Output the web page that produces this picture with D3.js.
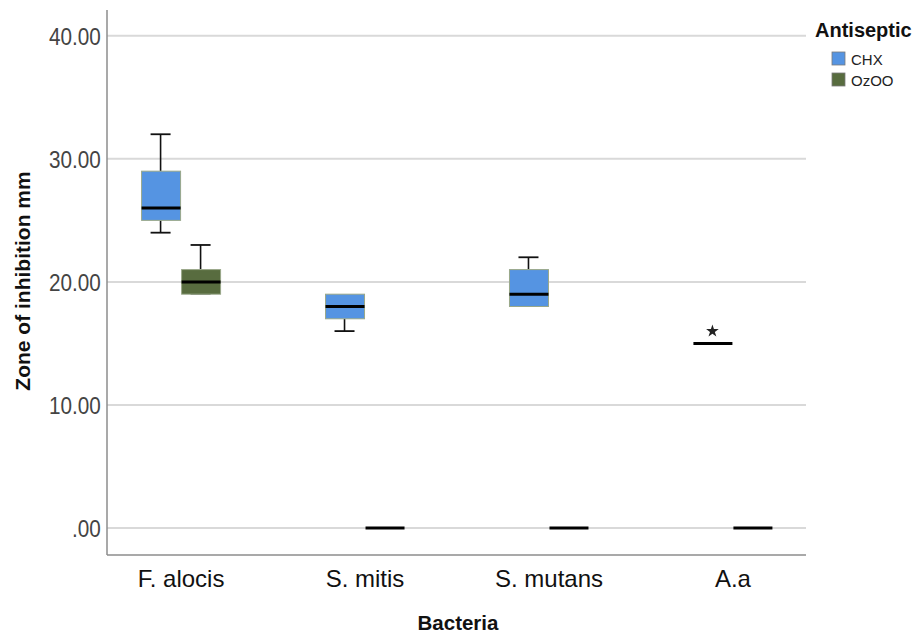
<!DOCTYPE html>
<html><head><meta charset="utf-8">
<script src="https://cdn.jsdelivr.net/npm/d3@7"></script>
<style>body{margin:0;background:#fff}svg{display:block;font-family:"Liberation Sans",Arial,sans-serif}</style>
</head><body><svg id="c" width="918" height="634"></svg>
<script>
const categories = ["F. alocis", "S. mitis", "S. mutans", "A.a"];
const series = ["CHX", "OzOO"];
const colors = ["#5594e2", "#586c3f"];
const yTicks = [0, 10, 20, 30, 40];
// box statistics per series, in category order
const chxMin    = [24, 16, 18, 15];
const chxQ1     = [25, 17, 18, 15];
const chxMedian = [26, 18, 19, 15];
const chxQ3     = [29, 19, 21, 15];
const chxMax    = [32, 19, 22, 15];
const chxOutliers = [[], [], [], [16]];
const ozMin    = [19, 0, 0, 0];
const ozQ1     = [19, 0, 0, 0];
const ozMedian = [20, 0, 0, 0];
const ozQ3     = [21, 0, 0, 0];
const ozMax    = [23, 0, 0, 0];
const ozOutliers = [[], [], [], []];

const stats = [
  categories.map((c,i)=>({cat:c, s:0, min:chxMin[i], q1:chxQ1[i], med:chxMedian[i], q3:chxQ3[i], max:chxMax[i], out:chxOutliers[i]})),
  categories.map((c,i)=>({cat:c, s:1, min:ozMin[i], q1:ozQ1[i], med:ozMedian[i], q3:ozQ3[i], max:ozMax[i], out:ozOutliers[i]}))
].flat();

const svg = d3.select("#c");
const L = 107, R = 806, T = 10, B = 555;
const x = d3.scalePoint().domain(categories).range([L, R]).padding(0.4);
const xs = d3.scaleBand().domain(series).range([-40, 40]);
const y = d3.scaleLinear().domain([-2.2, 42.1]).range([B, T]);

// gridlines
svg.append("g").selectAll("line").data(yTicks).join("line")
  .attr("x1", L).attr("x2", R).attr("y1", d=>y(d)).attr("y2", d=>y(d))
  .attr("stroke", "#d9d9d9").attr("stroke-width", 2);

// axes lines
svg.append("line").attr("x1", L).attr("x2", L).attr("y1", T).attr("y2", B).attr("stroke", "#8c8c8c").attr("stroke-width", 1.5);
svg.append("line").attr("x1", L).attr("x2", R).attr("y1", B).attr("y2", B).attr("stroke", "#8c8c8c").attr("stroke-width", 1.5);

// y tick labels
const yAxis = d3.axisLeft(y).tickValues(yTicks).tickSize(0).tickPadding(7)
  .tickFormat(d => d === 0 ? ".00" : d3.format(".2f")(d));
const ga = svg.append("g").attr("transform", `translate(${L},0)`).call(yAxis);
ga.select(".domain").remove();
ga.selectAll("text").attr("font-size", 23).attr("fill", "#444")
  .attr("font-family", "Liberation Sans, Arial, sans-serif")
  .attr("transform", "scale(0.9,1)").attr("dy", "0.36em");

// x tick labels
const xAxis = d3.axisBottom(x).tickSize(0).tickPadding(0);
const gx = svg.append("g").attr("transform", `translate(0,${B})`).call(xAxis);
gx.select(".domain").remove();
gx.selectAll("text").attr("font-size", 24).attr("fill", "#111")
  .attr("font-family", "Liberation Sans, Arial, sans-serif")
  .attr("y", 32).attr("dy", 0);

// boxes
const g = svg.append("g");
stats.forEach(d => {
  const x0 = x(d.cat) + xs(series[d.s]);
  const w = xs.bandwidth();
  const cx = x0 + w/2;
  const cap = w * 0.5;
  const gg = g.append("g");
  if (d.max > d.q3) {
    gg.append("line").attr("x1", cx).attr("x2", cx).attr("y1", y(d.q3)).attr("y2", y(d.max)).attr("stroke", "#111").attr("stroke-width", 1.6);
    gg.append("line").attr("x1", cx-cap/2).attr("x2", cx+cap/2).attr("y1", y(d.max)).attr("y2", y(d.max)).attr("stroke", "#111").attr("stroke-width", 1.8);
  }
  if (d.min < d.q1) {
    gg.append("line").attr("x1", cx).attr("x2", cx).attr("y1", y(d.q1)).attr("y2", y(d.min)).attr("stroke", "#111").attr("stroke-width", 1.6);
    gg.append("line").attr("x1", cx-cap/2).attr("x2", cx+cap/2).attr("y1", y(d.min)).attr("y2", y(d.min)).attr("stroke", "#111").attr("stroke-width", 1.8);
  } else if (d.q3 > d.q1) {
    gg.append("line").attr("x1", cx-cap/2).attr("x2", cx+cap/2).attr("y1", y(d.min)).attr("y2", y(d.min)).attr("stroke", "#444").attr("stroke-width", 1);
  }
  if (d.q3 > d.q1) {
    gg.append("rect").attr("x", x0+1).attr("width", w-1).attr("y", y(d.q3)).attr("height", y(d.q1)-y(d.q3))
      .attr("fill", colors[d.s]).attr("stroke", "#9aa889").attr("stroke-width", 1);
  }
  gg.append("line").attr("x1", x0+1).attr("x2", x0+w).attr("y1", y(d.med)).attr("y2", y(d.med)).attr("stroke", "#000").attr("stroke-width", 3);
  d.out.forEach(o => {
    gg.append("path").attr("d", d3.symbol(d3.symbolStar, 50)()).attr("transform", `translate(${cx},${y(o)})`).attr("fill", "#222");
  });
});

// axis titles
svg.append("text").attr("x", 458).attr("y", 630).attr("text-anchor", "middle").attr("font-weight", "bold").attr("font-size", 20.5).attr("fill", "#111").text("Bacteria");
svg.append("text").attr("transform", "translate(30,281) rotate(-90)").attr("text-anchor", "middle").attr("font-weight", "bold").attr("font-size", 21).attr("fill", "#111").text("Zone of inhibition mm");

// legend
const lg = svg.append("g");
lg.append("text").attr("x", 815).attr("y", 37).attr("font-weight", "bold").attr("font-size", 20).attr("fill", "#111").text("Antiseptic");
series.forEach((s, i) => {
  lg.append("rect").attr("x", 832).attr("y", 52 + i*21).attr("width", 13).attr("height", 13).attr("fill", colors[i]).attr("stroke", "#7a7a7a").attr("stroke-width", 0.8);
  lg.append("text").attr("x", 851).attr("y", 65 + i*21).attr("font-size", 15).attr("fill", "#222").text(s);
});
</script></body></html>
